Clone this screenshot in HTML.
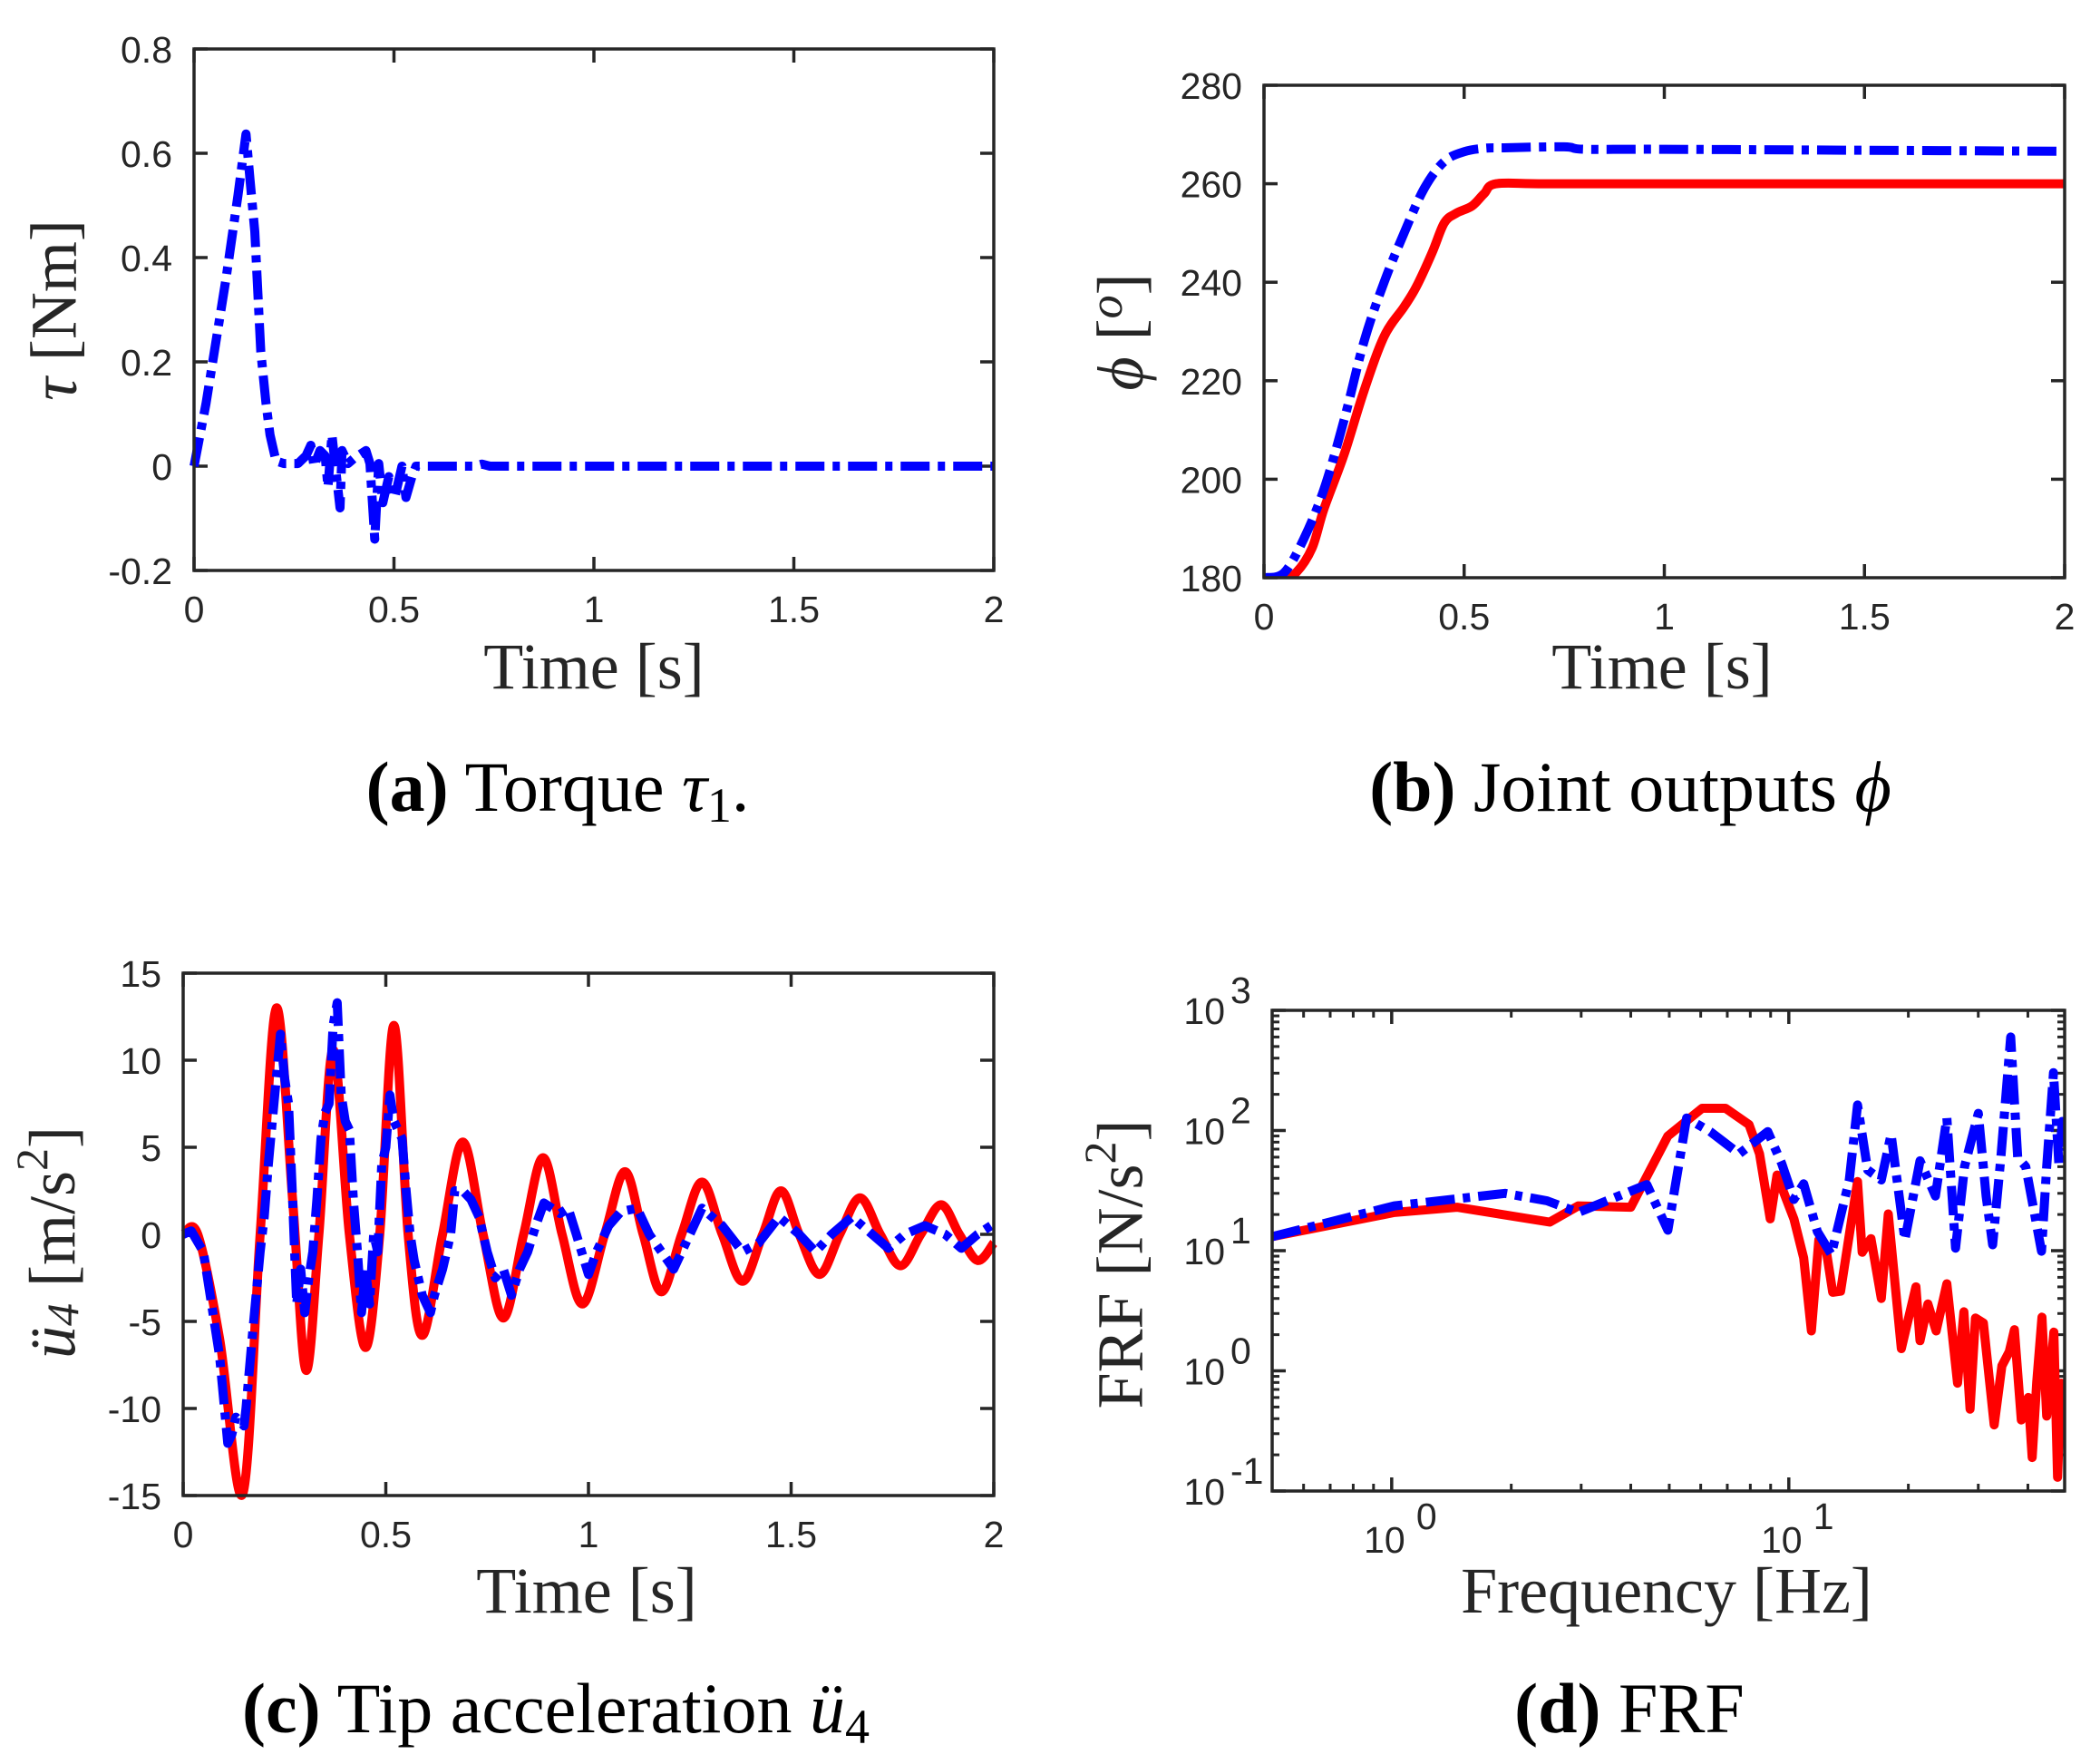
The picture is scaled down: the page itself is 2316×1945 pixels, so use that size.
<!DOCTYPE html>
<html><head><meta charset="utf-8"><style>
html,body{margin:0;padding:0;background:#fff;}
svg{display:block;}
.tick{font-family:"Liberation Sans",sans-serif;font-size:41px;fill:#262626;}
.title{font-family:"Liberation Serif",serif;font-size:72px;fill:#262626;}
.cap{font-family:"Liberation Serif",serif;font-size:78px;fill:#000;}
</style></head><body>
<svg id="fig" width="2316" height="1945" viewBox="0 0 2316 1945" xmlns="http://www.w3.org/2000/svg">
<g id="pa"></g>
<g id="pb"></g>
<g id="pc"></g>
<g id="pd"></g>

<text class="title" x="67" y="342" text-anchor="middle" dominant-baseline="middle" transform="rotate(-90 67 342)"><tspan font-style="italic">τ</tspan>  [Nm]</text>
<text class="title" x="655" y="759" text-anchor="middle">Time [s]</text>
<text class="cap" x="615" y="894" text-anchor="middle"><tspan font-weight="bold">(a)</tspan> Torque <tspan font-style="italic">τ</tspan><tspan font-size="54" dy="12">1</tspan><tspan dy="-12">.</tspan></text>

<text class="title" x="1243" y="366" text-anchor="middle" dominant-baseline="middle" transform="rotate(-90 1243 366)"><tspan font-style="italic">ϕ</tspan>  [<tspan font-style="italic" font-size="52" dy="-18">o</tspan><tspan dy="18">]</tspan></text>
<text class="title" x="1833" y="759" text-anchor="middle">Time [s]</text>
<text class="cap" x="1798" y="894" text-anchor="middle"><tspan font-weight="bold">(b)</tspan> Joint outputs <tspan font-style="italic">ϕ</tspan></text>

<text class="title" x="65" y="1370" text-anchor="middle" dominant-baseline="middle" transform="rotate(-90 65 1370)"><tspan font-style="italic">ü</tspan><tspan font-style="italic" font-size="50" dy="10">4</tspan><tspan dy="-10">  [m/s</tspan><tspan font-size="50" dy="-24">2</tspan><tspan dy="24">]</tspan></text>
<text class="title" x="647" y="1778" text-anchor="middle">Time [s]</text>
<text class="cap" x="613" y="1910" text-anchor="middle"><tspan font-weight="bold">(c)</tspan> Tip acceleration <tspan font-style="italic">ü</tspan><tspan font-size="54" dy="12">4</tspan></text>

<text class="title" x="1243" y="1394" text-anchor="middle" dominant-baseline="middle" transform="rotate(-90 1243 1394)">FRF [N/s<tspan font-size="50" dy="-24">2</tspan><tspan dy="24">]</tspan></text>
<text class="title" x="1838" y="1778" text-anchor="middle">Frequency [Hz]</text>
<text class="cap" x="1797" y="1910" text-anchor="middle"><tspan font-weight="bold">(d)</tspan> FRF</text>
</svg>
<script>
// ---- Panel (a) data: torque ----
const aTime = [0,0.03,0.08,0.11,0.13,0.14,0.152,0.167,0.18,0.19,0.205,0.225,0.26,0.28,0.292,0.3,0.315,0.328,0.335,0.345,0.352,0.365,0.37,0.385,0.40,0.43,0.44,0.452,0.462,0.472,0.487,0.502,0.52,0.53,0.545,0.555,0.58,0.7,0.72,0.74,2];
const aTau  = [0,0.12,0.36,0.52,0.637,0.55,0.45,0.22,0.12,0.06,0.01,0.005,0.005,0.02,0.04,0,0.03,0.02,-0.04,0.06,0.01,-0.08,0.03,0.005,0.015,0.03,0.005,-0.14,0.005,-0.07,-0.02,-0.06,0,-0.06,-0.02,0,0,0,0.004,0,0];
const aXTicks = [0,0.5,1,1.5,2];
const aXLabels = ["0","0.5","1","1.5","2"];
const aYTicks = [-0.2,0,0.2,0.4,0.6,0.8];
const aYLabels = ["-0.2","0","0.2","0.4","0.6","0.8"];

// ---- Panel (b) data: joint outputs ----
const bTimeBlue = [0,0.05,0.1,0.15,0.2,0.25,0.3,0.35,0.4,0.45,0.5,0.55,0.6,0.75,0.8,1,1.5,2];
const bPhiBlue  = [180,181,188,198,212,228,240,250,259,264.5,266.5,267.2,267.3,267.5,267,267,266.8,266.6];
const bTimeRed  = [0,0.05,0.08,0.12,0.15,0.2,0.25,0.3,0.35,0.38,0.42,0.45,0.48,0.52,0.55,0.58,0.7,1,2];
const bPhiRed   = [180,180,181,186,194,205,218,229,235,239,246,252,254,255.5,258,260,260,260,260];
const bXTicks = [0,0.5,1,1.5,2];
const bXLabels = ["0","0.5","1","1.5","2"];
const bYTicks = [180,200,220,240,260,280];
const bYLabels = ["180","200","220","240","260","280"];

// ---- Panel (c) data: tip acceleration ----
const cTimeRed = [0,0.036,0.09,0.147,0.19,0.23,0.27,0.303,0.335,0.37,0.41,0.45,0.485,0.52,0.555,0.59,0.64,0.69,0.74,0.79,0.84,0.888,0.935,0.985,1.04,1.09,1.135,1.18,1.23,1.28,1.33,1.38,1.43,1.475,1.52,1.57,1.62,1.67,1.72,1.77,1.82,1.87,1.915,1.96,2];
const cAccRed  = [0,0,-6,-14.9,0,13,2,-7.8,0,10.6,0,-6.5,0,12,0,-5.8,0,5.3,0,-4.8,0,4.4,0,-4.0,0,3.6,0,-3.3,0,3.0,0,-2.7,0,2.5,0,-2.3,0,2.1,0,-1.8,0,1.7,0,-1.5,-0.5];
const cTimeBlue = [0,0.02,0.05,0.07,0.09,0.11,0.12,0.13,0.15,0.155,0.17,0.19,0.2,0.21,0.22,0.23,0.24,0.25,0.26,0.27,0.28,0.29,0.3,0.31,0.32,0.33,0.34,0.35,0.36,0.37,0.38,0.39,0.4,0.41,0.42,0.43,0.44,0.45,0.46,0.47,0.48,0.49,0.5,0.51,0.52,0.53,0.54,0.55,0.56,0.57,0.59,0.61,0.62,0.64,0.66,0.67,0.69,0.71,0.73,0.75,0.77,0.79,0.81,0.83,0.85,0.87,0.89,0.91,0.93,0.95,0.97,1,1.02,1.05,1.08,1.12,1.15,1.18,1.21,1.25,1.28,1.33,1.38,1.42,1.47,1.52,1.56,1.6,1.65,1.7,1.74,1.78,1.83,1.88,1.92,1.96,2];
const cAccBlue  = [0,0.2,-1,-4,-7,-12,-11.5,-10.5,-11,-10,-6,-1,1,4,6.5,9,11.5,9,7.5,2,-4,-2,-4.5,-2.5,-1,2,5.5,7,7.5,12,13.3,8,6.5,6,2,-1,-4.5,-2,-4,0,-1,4,5,8,6.5,6,5.5,2.5,0,-1.5,-3.5,-4.5,-3.5,-2,0,2.5,2.5,2,1,-1,-2.5,-2,-3.5,-2,-1,0.5,1.8,1.5,1.2,1.5,0,-2.3,-1,0.5,1.3,1.5,0,-1,-2,0,1.5,0.5,-1,-0.5,1,0,-1,0,1,0,-0.8,0,0.5,0,-0.8,0,0.6];
const cXTicks = [0,0.5,1,1.5,2];
const cXLabels = ["0","0.5","1","1.5","2"];
const cYTicks = [-15,-10,-5,0,5,10,15];
const cYLabels = ["-15","-10","-5","0","5","10","15"];

// ---- Panel (d) data: FRF ----
const dFreqRed = [0.5,1.015,1.46,2.5,2.95,4.0,4.96,6.05,6.93,7.94,8.44,8.98,9.34,10.3,10.9,11.4,11.9,12.4,12.9,13.5,14.9,15.3,16.1,17.1,17.8,19.2,20.9,21.4,22.4,23.5,25,26.6,27.6,28.6,29.5,30.9,32.9,34.4,35.9,37,38.5,40.1,41,42.1,43.4,44.6,46.5,47.5,48.5,49.5];
const dFrfRed  = [13.1,20.8,23,17.3,23.6,23,90,153,153,112,64,18.4,42.6,18.4,8.7,2.15,12.3,10.5,4.5,4.6,37.6,9.7,12.6,4.0,20.2,1.53,5,1.78,3.6,2.15,5.3,0.79,3.1,0.48,2.75,2.5,0.355,1.1,1.44,2.2,0.39,0.6,0.19,0.8,2.8,0.42,2.1,0.13,0.79,0.25];
const dFreqBlue = [0.5,1.015,1.93,2.46,2.95,4.39,4.96,5.53,6.34,7.5,8.85,9.6,10.3,10.9,11.8,12.8,14.2,14.9,15.8,17.1,18.1,19.6,21.4,23.4,25,26.3,27.7,30,31.4,32.6,34.2,36.2,37.7,39.5,43.3,44.6,46.4,47.9,48.8,49.5];
const dFrfBlue  = [13.1,23.6,30,26,20.8,35.5,14.8,127,98,64,98,53,26.7,36,14.4,9.3,38.8,163,46.9,38.8,93,12.3,56,28.5,127,10.5,50,139,28.5,11.2,60,600,60,50,9.9,50,303,50,119,68];
const dXTicks = [1,10];
const dXExp = ["0","1"];
const dYTicks = [0.1,1,10,100,1000];
const dYExp = ["-1","0","1","2","3"];

const NS = "http://www.w3.org/2000/svg";
const AX = "#262626";
function mk(tag, attrs, parent){ const e=document.createElementNS(NS,tag); for(const k in attrs) e.setAttribute(k,attrs[k]); parent.appendChild(e); return e; }

function linScale(d0,d1,r0,r1){ return v => r0 + (v-d0)/(d1-d0)*(r1-r0); }
function logScale(d0,d1,r0,r1){ const l0=Math.log10(d0), l1=Math.log10(d1); return v => r0 + (Math.log10(v)-l0)/(l1-l0)*(r1-r0); }

function linePath(xs, ys, sx, sy){
  return xs.map((x,i)=>(i?"L":"M")+sx(x).toFixed(1)+","+sy(ys[i]).toFixed(1)).join(" ");
}
function smoothPath(xs, ys, sx, sy){
  const p = xs.map((x,i)=>[sx(x), sy(ys[i])]);
  let d = "M"+p[0][0].toFixed(1)+","+p[0][1].toFixed(1);
  for(let i=0;i<p.length-1;i++){
    const p0=p[Math.max(0,i-1)], p1=p[i], p2=p[i+1], p3=p[Math.min(p.length-1,i+2)];
    const c1=[p1[0]+(p2[0]-p0[0])/6, p1[1]+(p2[1]-p0[1])/6];
    const c2=[p2[0]-(p3[0]-p1[0])/6, p2[1]-(p3[1]-p1[1])/6];
    d += " C"+c1[0].toFixed(1)+","+c1[1].toFixed(1)+" "+c2[0].toFixed(1)+","+c2[1].toFixed(1)+" "+p2[0].toFixed(1)+","+p2[1].toFixed(1);
  }
  return d;
}

function frame(g, L, T, R, B){
  const r = mk("rect",{x:L,y:T,width:R-L,height:B-T,fill:"none",stroke:AX,"stroke-width":3.5},g);
  
  
}

function linearAxes(g, L,T,R,B, sx, sy, xt, xl, yt, yl){
  xt.forEach((v,i)=>{
    const x=sx(v);
    mk("line",{x1:x,y1:B,x2:x,y2:B-15,stroke:AX,"stroke-width":3.5},g);
    mk("line",{x1:x,y1:T,x2:x,y2:T+15,stroke:AX,"stroke-width":3.5},g);
    const t=mk("text",{x:x,y:B+57,"text-anchor":"middle",class:"tick"},g);
    t.textContent=xl[i];
    
    
  });
  yt.forEach((v,i)=>{
    const y=sy(v);
    mk("line",{x1:L,y1:y,x2:L+15,y2:y,stroke:AX,"stroke-width":3.5},g);
    mk("line",{x1:R,y1:y,x2:R-15,y2:y,stroke:AX,"stroke-width":3.5},g);
    const t=mk("text",{x:L-24,y:y+15,"text-anchor":"end",class:"tick"},g);
    t.textContent=yl[i];
    
    
  });
}

const BLUE_DASH = "32 9 8 9";
function series(g, d, color, dashed, name){
  const p = mk("path",{d:d,fill:"none",stroke:color,"stroke-width":10,"stroke-linejoin":"round"},g);
  if(dashed) p.setAttribute("stroke-dasharray",BLUE_DASH);
  
  
}

// Panel (a)
(function(){
  const g=document.getElementById("pa");
  const L=214,T=54,R=1096,B=629;
  const sx=linScale(0,2,L,R), sy=linScale(-0.2,0.8,B,T);
  linearAxes(g,L,T,R,B,sx,sy,aXTicks,aXLabels,aYTicks,aYLabels);
  series(g, linePath(aTime,aTau,sx,sy), "#0000ff", true, "torque-line");
  frame(g,L,T,R,B);
})();

// Panel (b)
(function(){
  const g=document.getElementById("pb");
  const L=1394,T=94,R=2277,B=637;
  const sx=linScale(0,2,L,R), sy=linScale(180,280,B,T);
  linearAxes(g,L,T,R,B,sx,sy,bXTicks,bXLabels,bYTicks,bYLabels);
  const clip=mk("clipPath",{id:"clipb"},g); mk("rect",{x:L,y:T,width:R-L,height:B-T},clip);
  const inner=mk("g",{"clip-path":"url(#clipb)"},g);
  series(inner, smoothPath(bTimeRed,bPhiRed,sx,sy), "#ff0000", false, "phi-red-line");
  series(inner, smoothPath(bTimeBlue,bPhiBlue,sx,sy), "#0000ff", true, "phi-blue-line");
  frame(g,L,T,R,B);
})();

// Panel (c)
(function(){
  const g=document.getElementById("pc");
  const L=202,T=1073,R=1096,B=1649;
  const sx=linScale(0,2,L,R), sy=linScale(-15,15,B,T);
  linearAxes(g,L,T,R,B,sx,sy,cXTicks,cXLabels,cYTicks,cYLabels);
  series(g, smoothPath(cTimeRed,cAccRed,sx,sy), "#ff0000", false, "acc-red-line");
  series(g, linePath(cTimeBlue,cAccBlue,sx,sy), "#0000ff", true, "acc-blue-line");
  frame(g,L,T,R,B);
})();

// Panel (d)
(function(){
  const g=document.getElementById("pd");
  const L=1403,T=1114,R=2277,B=1644;
  const sx=logScale(0.5,49.5,L,R), sy=logScale(0.1,1000,B,T);
  const minors=[];
  [0.1,1,10].forEach(dec=>{ for(let k=2;k<=9;k++){ const v=k*dec; if(v>0.5&&v<49.5&&v!==1&&v!==10) minors.push(v);} });
  minors.forEach(v=>{ const x=sx(v);
    mk("line",{x1:x,y1:B,x2:x,y2:B-8,stroke:AX,"stroke-width":3},g);
    mk("line",{x1:x,y1:T,x2:x,y2:T+8,stroke:AX,"stroke-width":3},g); });
  dXTicks.forEach((v,i)=>{ const x=sx(v);
    mk("line",{x1:x,y1:B,x2:x,y2:B-15,stroke:AX,"stroke-width":3.5},g);
    mk("line",{x1:x,y1:T,x2:x,y2:T+15,stroke:AX,"stroke-width":3.5},g);
    const t=mk("text",{x:x-8,y:B+68,"text-anchor":"middle",class:"tick"},g);
    t.textContent="10";
    
    
    const s=mk("text",{x:x+27,y:B+42,class:"tick","font-size":"32"},g);
    s.textContent=dXExp[i];
  });
  [0.1,1,10,100].forEach(dec=>{ for(let k=2;k<=9;k++){ const y=sy(k*dec);
    mk("line",{x1:L,y1:y,x2:L+8,y2:y,stroke:AX,"stroke-width":3},g);
    mk("line",{x1:R,y1:y,x2:R-8,y2:y,stroke:AX,"stroke-width":3},g); } });
  dYTicks.forEach((v,i)=>{ const y=sy(v);
    mk("line",{x1:L,y1:y,x2:L+15,y2:y,stroke:AX,"stroke-width":3.5},g);
    mk("line",{x1:R,y1:y,x2:R-15,y2:y,stroke:AX,"stroke-width":3.5},g);
    const t=mk("text",{x:L-52,y:y+15,"text-anchor":"end",class:"tick"},g);
    t.textContent="10";
    
    
    const s=mk("text",{x:L-46,y:y-8,class:"tick","font-size":"32"},g);
    s.textContent=dYExp[i];
  });
  const clip=mk("clipPath",{id:"clipd"},g); mk("rect",{x:L,y:T,width:R-L,height:B-T},clip);
  const inner=mk("g",{"clip-path":"url(#clipd)"},g);
  series(inner, linePath(dFreqRed,dFrfRed,sx,sy), "#ff0000", false, "frf-red-line");
  series(inner, linePath(dFreqBlue,dFrfBlue,sx,sy), "#0000ff", true, "frf-blue-line");
  frame(g,L,T,R,B);
})();
</script>
</body></html>
